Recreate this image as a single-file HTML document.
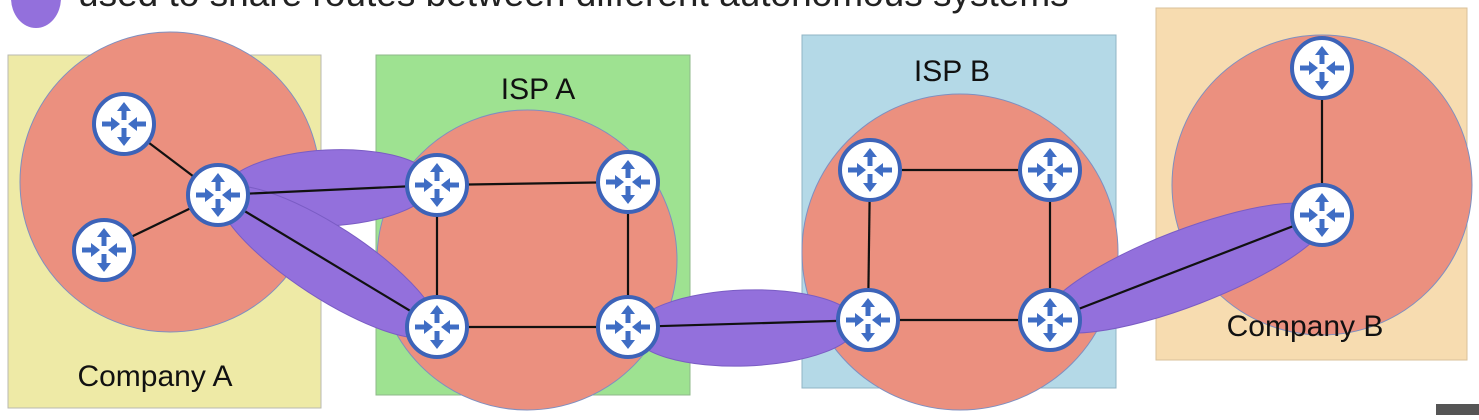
<!DOCTYPE html>
<html><head><meta charset="utf-8"><style>
body{margin:0;background:#fff;width:1479px;height:415px;overflow:hidden;font-family:"Liberation Sans",sans-serif}
</style></head><body>
<svg width="1479" height="415" xmlns="http://www.w3.org/2000/svg" font-family="Liberation Sans, sans-serif">
<defs>
<g id="r">
<circle r="30" fill="#fff" stroke="#3d63b8" stroke-width="4"/>
<g fill="#3f6dc4" stroke="#3f6dc4">
<path d="M0,-22 L-7,-13 L-2.5,-13 L-2.5,-4 L2.5,-4 L2.5,-13 L7,-13 Z" stroke="none"/>
<path d="M0,22 L-7,13 L-2.5,13 L-2.5,4 L2.5,4 L2.5,13 L7,13 Z" stroke="none"/>
<path d="M-4,0 L-13,-7 L-13,-2.5 L-22,-2.5 L-22,2.5 L-13,2.5 L-13,7 Z" stroke="none"/>
<path d="M4,0 L13,-7 L13,-2.5 L22,-2.5 L22,2.5 L13,2.5 L13,7 Z" stroke="none"/>
</g>
</g>
</defs>
<ellipse cx="36" cy="-2" rx="25" ry="30" fill="#9370dc"/>
<text x="78" y="6" font-size="37" fill="#222">used to share routes between different autonomous systems</text>
<rect x="8" y="55" width="313" height="353" fill="#eeeaa6" stroke="#b9b9b0"/>
<rect x="376" y="55" width="314" height="340" fill="#9ee291" stroke="#8fb88a"/>
<rect x="802" y="35" width="314" height="353" fill="#b4d9e7" stroke="#90b5c5"/>
<rect x="1156" y="8" width="311" height="352" fill="#f7dcb0" stroke="#d8c09a"/>
<circle cx="170" cy="182" r="150" fill="#eb907f" stroke="#7f8fc0" stroke-width="1"/>
<circle cx="527" cy="260" r="150" fill="#eb907f" stroke="#7f8fc0" stroke-width="1"/>
<circle cx="960" cy="252" r="158" fill="#eb907f" stroke="#7f8fc0" stroke-width="1"/>
<circle cx="1322" cy="185" r="150" fill="#eb907f" stroke="#7f8fc0" stroke-width="1"/>
<text x="538" y="99" font-size="30" text-anchor="middle" fill="#111">ISP A</text>
<text x="952" y="81" font-size="30" text-anchor="middle" fill="#111">ISP B</text>
<text x="155" y="386" font-size="30" text-anchor="middle" fill="#111">Company A</text>
<text x="1305" y="336" font-size="30" text-anchor="middle" fill="#111">Company B</text>
<g fill="#9370dc" stroke="#7a5cc4" stroke-width="1">
<ellipse cx="328" cy="188" rx="105" ry="38" transform="rotate(-3 328 188)"/>
<ellipse cx="328" cy="262" rx="128" ry="36" transform="rotate(33 328 262)"/>
<ellipse cx="745" cy="328" rx="112" ry="38" transform="rotate(-2 745 328)"/>
<ellipse cx="1186" cy="268" rx="152" ry="38" transform="rotate(-21 1186 268)"/>
</g>
<g stroke="#111" stroke-width="2.2">
<line x1="124" y1="124" x2="218" y2="195"/>
<line x1="104" y1="250" x2="218" y2="195"/>
<line x1="218" y1="195" x2="437" y2="185"/>
<line x1="218" y1="195" x2="437" y2="327"/>
<line x1="437" y1="185" x2="628" y2="182"/>
<line x1="437" y1="185" x2="437" y2="327"/>
<line x1="628" y1="182" x2="628" y2="327"/>
<line x1="437" y1="327" x2="628" y2="327"/>
<line x1="628" y1="327" x2="868" y2="320"/>
<line x1="870" y1="170" x2="1050" y2="170"/>
<line x1="870" y1="170" x2="868" y2="320"/>
<line x1="1050" y1="170" x2="1050" y2="320"/>
<line x1="868" y1="320" x2="1050" y2="320"/>
<line x1="1050" y1="320" x2="1322" y2="215"/>
<line x1="1322" y1="68" x2="1322" y2="215"/>
</g>
<use href="#r" x="124" y="124"/>
<use href="#r" x="104" y="250"/>
<use href="#r" x="218" y="195"/>
<use href="#r" x="437" y="185"/>
<use href="#r" x="628" y="182"/>
<use href="#r" x="437" y="327"/>
<use href="#r" x="628" y="327"/>
<use href="#r" x="870" y="170"/>
<use href="#r" x="1050" y="170"/>
<use href="#r" x="868" y="320"/>
<use href="#r" x="1050" y="320"/>
<use href="#r" x="1322" y="68"/>
<use href="#r" x="1322" y="215"/>
<rect x="1436" y="404" width="43" height="11" fill="#555"/>
</svg>
</body></html>
